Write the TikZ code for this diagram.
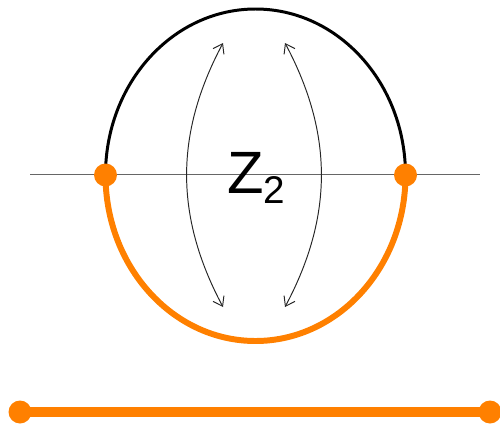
\documentclass[tikz,border=0pt]{standalone}
\usepackage{fontspec}
\setsansfont{Liberation Sans}
\usepackage{xcolor}
\usetikzlibrary{arrows.meta}
\definecolor{zorange}{RGB}{255,128,0}

\begin{document}
\begin{tikzpicture}[x=0.02cm,y=0.02cm,>={Straight Barb[length=5pt,width=7pt]},
  dot/.style={circle,fill=zorange,inner sep=0pt,minimum size=0.46cm}]
\useasboundingbox(0,0)rectangle(500,427);
\draw[black!60,line width=0.9pt](30,252.5)coordinate(hl)--(480,252.5)coordinate(hr);
\draw[line width=1.7pt](105.5,252)arc[start angle=180,end angle=0,x radius=150,y radius=166];
\draw[zorange,line width=3.4pt](105.5,252)arc[start angle=180,end angle=360,x radius=150,y radius=166];
\node[dot](p)at(105.5,252){};
\node[dot](q)at(405.5,252){};
% the swap arrows
\coordinate(lt)at(223,384);\coordinate(lb)at(223,120);
\coordinate(rt)at(285,384);\coordinate(rb)at(285,120);
\draw[<->,line width=0.55pt,black!85](lt)to[bend right=28](lb);
\draw[<->,line width=0.55pt,black!85](rt)to[bend left=28](rb);
\node[anchor=base west,inner sep=0pt,font=\sffamily\fontsize{34}{36}\selectfont](z2)at(227,234)
  {Z\raisebox{-6pt}{\fontsize{22}{24}\selectfont 2}};
% the interval
\node[dot](a)at(20,15){};
\node[dot](b)at(490,15){};
\draw[zorange,line width=6pt](a.center)--(b.center);
\end{tikzpicture}
\end{document}
